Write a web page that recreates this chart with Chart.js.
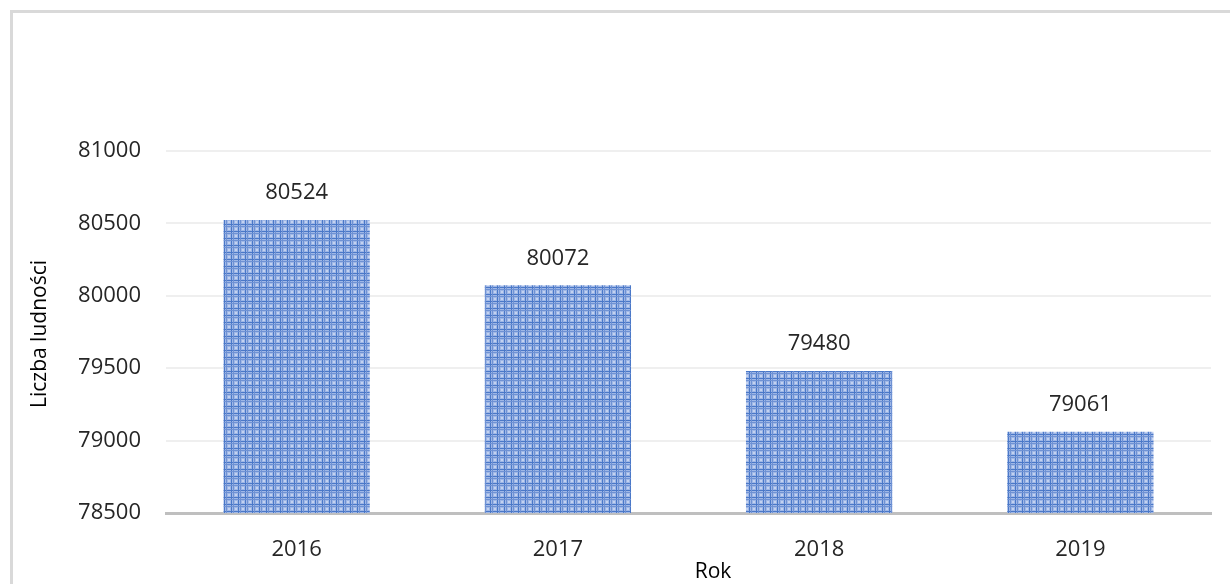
<!DOCTYPE html>
<html lang="pl">
<head>
<meta charset="utf-8">
<title>Liczba ludności</title>
<script src="https://cdn.jsdelivr.net/npm/chart.js@4/dist/chart.umd.min.js"></script>
<style>
  html, body { margin: 0; padding: 0; background: #ffffff; }
  #wrap { width: 1230px; height: 584px; position: relative; overflow: hidden; }
</style>
</head>
<body>
<div id="wrap"><canvas id="c" width="1230" height="584"></canvas></div>
<script>
// Population by year
const years = ['2016', '2017', '2018', '2019'];
const population = [80524, 80072, 79480, 79061];
const yMin = 78500;
const yMax = 81000;
const yStep = 500;

const FONT = '"Open Sans", "Noto Sans", sans-serif';
const TEXT = '#262626';

// Blue plaid fill for the bars
function plaidPattern() {
  const t = document.createElement('canvas');
  t.width = 7; t.height = 7;
  const g = t.getContext('2d');
  g.fillStyle = '#9fb7e6';
  g.fillRect(0, 0, 7, 7);
  g.fillStyle = '#c3d2f0';
  g.fillRect(4, 4, 2, 2);
  g.fillStyle = '#4a78c8';
  g.fillRect(0, 0, 1, 7);
  g.fillRect(0, 0, 7, 1);
  g.fillStyle = '#6f92d4';
  g.fillRect(2, 0, 1, 7);
  g.fillRect(0, 2, 7, 1);
  return g.createPattern(t, 'repeat');
}

// Outer frame
const framePlugin = {
  id: 'frame',
  beforeDraw(chart) {
    const ctx = chart.ctx;
    ctx.save();
    ctx.strokeStyle = '#d9d9d9';
    ctx.lineWidth = 3;
    ctx.strokeRect(11.5, 11.5, 1400, 800);
    ctx.restore();
  }
};

// Value labels above bars and axis titles
const labelPlugin = {
  id: 'labels',
  afterDatasetsDraw(chart) {
    const ctx = chart.ctx;
    const meta = chart.getDatasetMeta(0);
    ctx.save();
    ctx.fillStyle = TEXT;
    ctx.font = '22px ' + FONT;
    ctx.textAlign = 'center';
    ctx.textBaseline = 'bottom';
    meta.data.forEach((bar, i) => {
      ctx.fillText(String(population[i]), bar.x, bar.y - 16);
    });
    ctx.fillStyle = '#000000';
    ctx.font = '500 21px ' + FONT;
    ctx.textBaseline = 'middle';
    ctx.fillText('Rok', 713, 572);
    ctx.translate(40, 334);
    ctx.rotate(-Math.PI / 2);
    ctx.fillText('Liczba ludności', 0, 0);
    ctx.restore();
  }
};

new Chart(document.getElementById('c'), {
  type: 'bar',
  data: {
    labels: years,
    datasets: [{
      data: population,
      backgroundColor: plaidPattern(),
      borderWidth: 0,
      barPercentage: 0.56,
      categoryPercentage: 1
    }]
  },
  options: {
    responsive: false,
    animation: false,
    devicePixelRatio: 1,
    layout: { padding: { top: 151, right: 19, left: 0, bottom: 0 } },
    plugins: { legend: { display: false }, tooltip: { enabled: false } },
    scales: {
      x: {
        grid: { display: false, drawTicks: false },
        border: { display: true, color: '#bfbfbf', width: 3 },
        ticks: { color: TEXT, font: { family: FONT, size: 22 }, padding: 24 },
        afterFit(s) { s.height = 71; }
      },
      y: {
        min: yMin,
        max: yMax,
        grid: { color: '#efefef', lineWidth: 2, drawTicks: false },
        border: { display: false },
        ticks: {
          stepSize: yStep,
          color: TEXT,
          font: { family: FONT, size: 22 },
          padding: 25,
          callback: v => String(v)
        },
        afterFit(s) { s.width = 166; }
      }
    }
  },
  plugins: [framePlugin, labelPlugin]
});
</script>
</body>
</html>
